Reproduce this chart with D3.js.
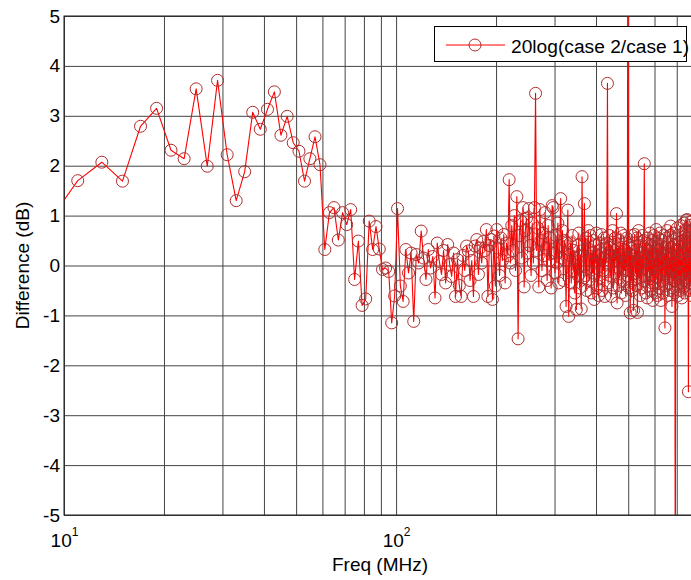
<!DOCTYPE html>
<html><head><meta charset="utf-8">
<script src="https://cdn.jsdelivr.net/npm/d3@7"></script>
<style>
body{margin:0;background:#fff}
svg{display:block}
text{font-family:"Liberation Sans",Arial,Helvetica,sans-serif;fill:#000}
</style>
</head><body>
<svg id="chart" width="691" height="580"></svg>
<script>
// ---- data (frequency sweep in MHz, odd steps of 2 MHz starting at 9 MHz) ----
const freqStart = 9;
const freqStep = 2;
// 20log(case 2 / case 1) in dB, one value per frequency step
const diffDb = [
  0.88, 1.70, 2.07, 1.69, 2.79, 3.15, 2.31, 2.14, 3.54, 1.99,
  3.71, 2.22, 1.30, 1.88, 3.07, 2.73, 3.13, 3.48, 2.61, 2.99,
  2.46, 2.29, 1.69, 2.14, 2.58, 2.02, 0.32, 1.06, 1.16, 0.51,
  1.06, 0.82, 1.12, -0.28, 0.49, -0.80, -0.67, 0.89, 0.32, 0.78,
  0.33, -0.08, -0.05, -0.12, -1.15, -0.61, 1.14, -0.41, -0.72, 0.32,
  -0.15, 0.25, -1.12, 0.22, 0.05, 0.69, 0.15, -0.28, 0.32, -0.05,
  0.18, -0.65, 0.45, 0.08, -0.18, 0.30, -0.35, 0.42, 0.02, -0.22,
  0.25, -0.62, 0.12, -0.40, -0.62, 0.20, -0.10, 0.39, 0.29, -0.30,
  0.10, -0.62, 0.39, 0.52, -0.18, 0.35, 0.05, 0.48, 0.30, 0.72,
  -0.62, 0.40, 0.52, -0.68, 0.59, -0.41, 0.72, 0.35, -0.20, 0.55,
  0.10, 0.62, -0.35, 0.45, 0.20, 1.72, 0.05, 0.80, 0.30, 1.00,
  -0.10, 1.38, -1.47, 0.60, 0.90, 0.15, 1.16, -0.43, 0.70, 0.95,
  0.25, 1.14, 0.40, -0.20, 0.85, 0.05, 1.16, 3.45, 0.30, 0.75,
  -0.43, 1.12, 0.50, -0.10, 0.65, 0.20, 1.06, 0.35, -0.30, 0.80,
  0.10, 0.55, -0.45, 1.20, 1.16, 0.25, -0.15, 0.60, 0.05, 0.85,
  -0.35, 0.40, 1.34, 0.15, 0.70, -0.30, 0.50, 0.10, -0.82, 0.45,
  1.11, -1.02, 0.20, 0.45, -0.35, 0.60, -0.10, 0.30, -0.55, 0.15,
  -0.88, 0.40, -0.20, 0.65, -0.45, 0.20, -0.87, 1.78, 0.30, -0.25,
  1.24, -0.20, 0.55, -0.50, 0.35, 0.70, -0.30, 0.10, 0.60, -0.55,
  0.25, -0.15, 0.50, -0.68, 0.40, 0.05, 0.65, -0.40, 0.20, -0.60,
  0.45, -0.25, 0.30, 0.62, -0.50, 0.15, -0.10, 0.55, -0.62, 0.35,
  0.05, 0.45, 3.65, -0.35, 0.25, 0.60, -0.20, 0.40, -0.62, 0.15,
  0.70, -0.45, 0.30, -0.15, 0.55, 0.10, 1.04, -0.75, 0.35, -0.40,
  0.50, -0.25, 0.20, 0.65, -0.55, 0.05, 0.45, -0.30, 0.60, -0.10,
  0.30, -0.60, 0.15, 0.55, -0.20, 9.50, 0.10, -0.45, 0.40, -0.95,
  0.35, -0.30, 0.60, -0.50, 0.20, -0.90, 0.45, 0.62, -0.15, 0.30,
  -0.40, 0.55, -0.94, 0.10, 0.70, -0.25, 0.40, -0.60, 0.25, 0.05,
  -0.45, 0.60, 0.15, -0.30, 0.50, 2.04, -0.20, 0.35, -0.55, 0.45,
  0.10, -0.65, 0.55, -0.10, 0.30, -0.40, 0.65, 0.00, -0.50, 0.40,
  -0.20, 0.50, -0.70, 0.25, 0.60, -0.35, 0.15, -0.55, 0.45, 0.72,
  -0.25, 0.35, -0.60, 0.55, 0.05, -0.45, 0.30, 0.65, -0.15, -0.70,
  0.40, -0.30, 0.50, 0.10, -0.55, 0.60, -0.10, 0.20, -1.25, 0.35,
  -0.40, 0.55, -0.20, 0.70, -0.60, 0.25, 0.45, -0.35, 0.15, -0.50,
  0.60, 0.79, -0.25, 0.35, -0.82, 0.50, -0.45, 0.20, 0.65, -0.30,
  0.40, -0.55, -7.50, 0.30, -0.15, 0.55, -0.40, 0.75, 0.05, -0.60,
  0.45, -0.20, 0.60, -0.50, 0.25, 0.80, -0.35, 0.10, -0.65, 0.50,
  -0.15, 0.65, -0.45, 0.30, 0.85, -0.55, 0.20, -0.30, 0.70, 0.91,
  -0.40, 0.55, 0.92, -0.25, 0.35, -2.53, 0.60, -0.50, 0.30, 0.80,
  -0.35, 0.45, 0.88, -0.60, 0.20, 0.65, -0.45, 0.90, 0.10, -0.30,
  0.70, -0.50, 0.85, 0.25, -0.40, 0.60, 0.30
];
const xDomain = [10, 800];
const yDomain = [-5, 5];
const yTicks = [-5, -4, -3, -2, -1, 0, 1, 2, 3, 4, 5];
const xMajorTicks = [10, 100];
const xMajorExp = ["1", "2"];
const xGridTicks = [10, 20, 30, 40, 50, 60, 70, 80, 90, 100, 200, 300, 400, 500, 600, 700, 800];
const legendLabel = "20log(case 2/case 1)";
const xLabel = "Freq (MHz)";
const yLabel = "Difference (dB)";

// ---- layout ----
const L = 64, T = 16, R = 696, B = 515;
const fontPx = 19;
const lineColor = "#ff0000";
const markerColor = "#b02c2c";
const gridColor = "#444444";

const data = diffDb.map((v, i) => ({f: freqStart + i * freqStep, v}));

const x = d3.scaleLog().domain(xDomain).range([L, R]);
const y = d3.scaleLinear().domain(yDomain).range([B, T]);

const svg = d3.select("#chart");
svg.append("rect").attr("width", 691).attr("height", 580).attr("fill", "#fff");
svg.append("defs").append("clipPath").attr("id", "plotClip")
  .append("rect").attr("x", L).attr("y", T).attr("width", R - L).attr("height", B - T);

// vertical grid (log decades + minor)
const gx = svg.append("g").attr("transform", `translate(0,${B})`)
  .call(d3.axisBottom(x).tickValues(xGridTicks).tickSize(-(B - T)).tickFormat(""));
gx.select(".domain").remove();
gx.selectAll("line").attr("stroke", gridColor).attr("stroke-width", 1);

// horizontal grid
const gy = svg.append("g").attr("transform", `translate(${L},0)`)
  .call(d3.axisLeft(y).tickValues(yTicks).tickSize(-(R - L)).tickFormat(""));
gy.select(".domain").remove();
gy.selectAll("line").attr("stroke", gridColor).attr("stroke-width", 1);

// data line
const line = d3.line().x(d => x(d.f)).y(d => y(d.v));
svg.append("path").datum(data)
  .attr("clip-path", "url(#plotClip)")
  .attr("d", line)
  .attr("fill", "none")
  .attr("stroke", lineColor)
  .attr("stroke-width", 1.1)
  .attr("stroke-linejoin", "round");

// markers
svg.append("g").selectAll("circle")
  .data(data.filter(d => d.f >= xDomain[0] && d.f <= xDomain[1] && d.v >= yDomain[0] && d.v <= yDomain[1]))
  .join("circle")
  .attr("cx", d => x(d.f))
  .attr("cy", d => y(d.v))
  .attr("r", 6)
  .attr("fill", "none")
  .attr("stroke", markerColor)
  .attr("stroke-width", 1);

// axes box
svg.append("rect").attr("x", L).attr("y", T).attr("width", R - L).attr("height", B - T)
  .attr("fill", "none").attr("stroke", "#1a1a1a").attr("stroke-width", 1);

// y tick labels
const yAx = svg.append("g").attr("transform", `translate(${L},0)`)
  .call(d3.axisLeft(y).tickValues(yTicks).tickSize(0).tickPadding(4).tickFormat(d => String(d)));
yAx.select(".domain").remove();
yAx.selectAll("text").attr("font-size", fontPx).attr("font-family", null).attr("fill", "#000");

// x tick labels (10^n)
const xAx = svg.append("g").attr("transform", `translate(0,${B})`)
  .call(d3.axisBottom(x).tickValues(xMajorTicks).tickSize(0).tickFormat(""));
xAx.select(".domain").remove();
xAx.selectAll(".tick text").remove();
xAx.selectAll(".tick").each(function(d, i) {
  const t = d3.select(this).append("text")
    .attr("y", 32).attr("text-anchor", "middle").attr("font-size", fontPx);
  t.append("tspan").text("10");
  t.append("tspan").attr("dy", -11).attr("font-size", 12).text(xMajorExp[i]);
});

// axis labels
svg.append("text").attr("x", (L + R) / 2).attr("y", 571)
  .attr("text-anchor", "middle").attr("font-size", fontPx).text(xLabel);
svg.append("text").attr("transform", `translate(29,${(T + B) / 2}) rotate(-90)`)
  .attr("text-anchor", "middle").attr("font-size", fontPx).text(yLabel);

// legend
const lg = svg.append("g");
lg.append("rect").attr("x", 434.5).attr("y", 26.5).attr("width", 252).attr("height", 35)
  .attr("fill", "#fff").attr("stroke", "#000").attr("stroke-width", 1);
lg.append("line").attr("x1", 446).attr("x2", 505).attr("y1", 45).attr("y2", 45)
  .attr("stroke", lineColor).attr("stroke-width", 1);
lg.append("circle").attr("cx", 475).attr("cy", 45).attr("r", 6)
  .attr("fill", "none").attr("stroke", markerColor).attr("stroke-width", 1);
lg.append("text").attr("x", 511).attr("y", 52.5).attr("font-size", 19.2).text(legendLabel);
</script>
</body></html>
